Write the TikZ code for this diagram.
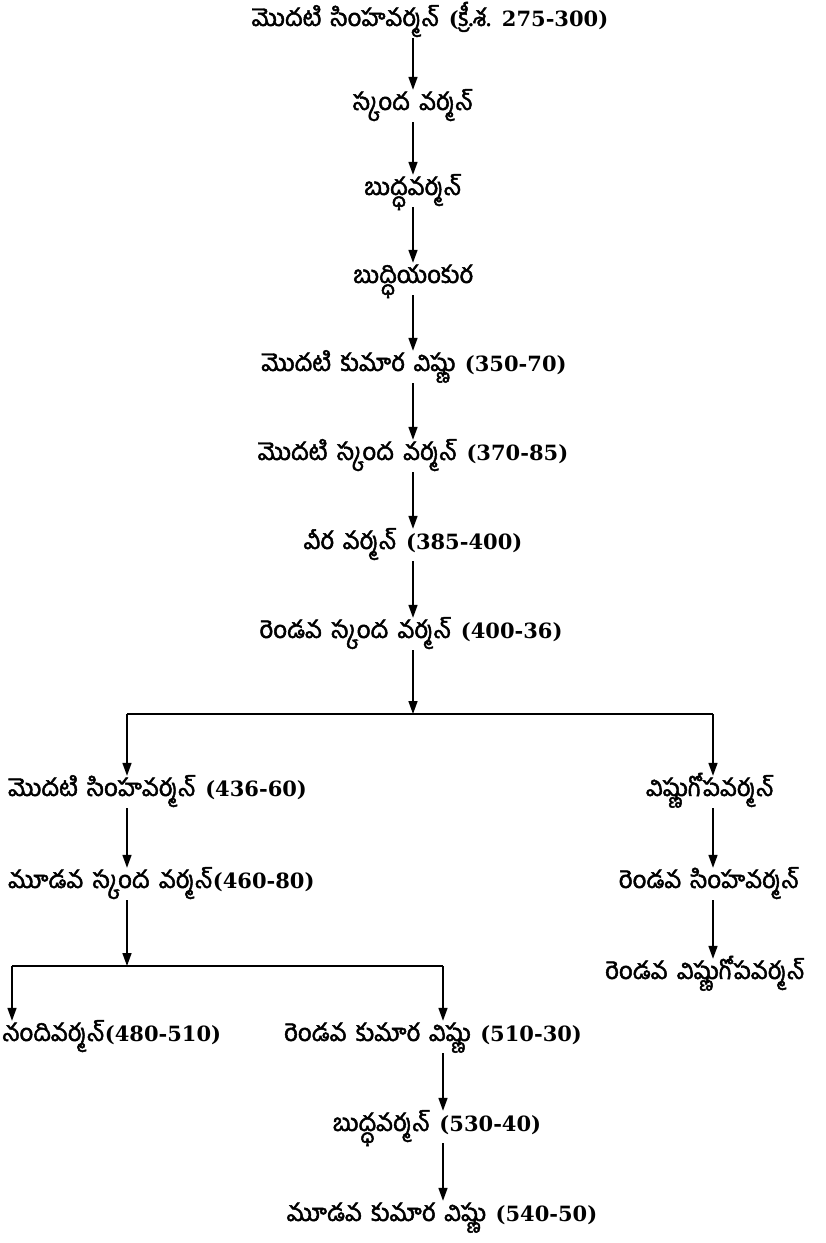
\documentclass[tikz,border=0pt]{standalone}
\usepackage{fontspec}
\usetikzlibrary{arrows.meta}
\newfontfamily\tel[Script=Telugu, FakeBold=2, WordSpace=1.6]{Hind Guntur}
\newfontfamily\numf{DejaVu Serif}
\newcommand{\yr}[1]{{\numf\bfseries\fontsize{21}{26}\selectfont #1}}
\tikzset{
  lbl/.style={inner xsep=0pt, inner ysep=5pt, text height=15pt, text depth=7pt,
    font=\fontsize{24}{28}\selectfont\tel},
  arr/.style={-{Triangle[length=13pt,width=9pt]}, line width=1.6pt},
  ln/.style={line width=1.6pt}
}
\begin{document}
\begin{tikzpicture}[x=1pt,y=-1pt]
\useasboundingbox (0,0) rectangle (826,1243);
% column coordinates
\coordinate (trunk) at (413,0);
\coordinate (cL) at (127,0);
\coordinate (cR) at (713,0);
\coordinate (dL) at (12,0);
\coordinate (dR) at (443,0);
% trunk
\node[lbl] (r1) at (430,22) {మొదటి సింహవర్మన్ \yr{(}క్రీ.శ. \yr{275-300)}};
\node[lbl] (r2) at (413,106) {స్కంద వర్మన్};
\node[lbl] (r3) at (413,191) {బుద్ధవర్మన్};
\node[lbl] (r4) at (413,279) {బుద్ధియంకుర};
\node[lbl] (r5) at (414,367) {మొదటి కుమార విష్ణు \yr{(350-70)}};
\node[lbl] (r6) at (413,456) {మొదటి స్కంద వర్మన్ \yr{(370-85)}};
\node[lbl] (r7) at (413,545) {వీర వర్మన్ \yr{(385-400)}};
\node[lbl] (r8) at (411,634) {రెండవ స్కంద వర్మన్ \yr{(400-36)}};
% left branch
\node[lbl, anchor=west] (l1) at (8,792) {మొదటి సింహవర్మన్ \yr{(436-60)}};
\node[lbl, anchor=west] (l2) at (8,884) {మూడవ స్కంద వర్మన్\yr{(460-80)}};
\node[lbl, anchor=west] (l3a) at (2,1037) {నందివర్మన్\yr{(480-510)}};
\node[lbl] (l3b) at (433,1037) {రెండవ కుమార విష్ణు \yr{(510-30)}};
\node[lbl] (l4) at (437,1127) {బుద్ధవర్మన్ \yr{(530-40)}};
\node[lbl] (l5) at (442,1217) {మూడవ కుమార విష్ణు \yr{(540-50)}};
% right branch
\node[lbl] (g1) at (710,792) {విష్ణుగోపవర్మన్};
\node[lbl] (g2) at (709,884) {రెండవ సింహవర్మన్};
\node[lbl] (g3) at (705,975) {రెండవ విష్ణుగోపవర్మన్};
% bars
\coordinate (b1) at (413,714);
\coordinate (b1l) at (127,714);
\coordinate (b1r) at (713,714);
\coordinate (b2) at (127,966);
\coordinate (b2l) at (12,966);
\coordinate (b2r) at (443,966);
% trunk arrows
\draw[arr] (r1.south -| trunk) -- (r2.north -| trunk);
\draw[arr] (r2.south -| trunk) -- (r3.north -| trunk);
\draw[arr] (r3.south -| trunk) -- (r4.north -| trunk);
\draw[arr] (r4.south -| trunk) -- (r5.north -| trunk);
\draw[arr] (r5.south -| trunk) -- (r6.north -| trunk);
\draw[arr] (r6.south -| trunk) -- (r7.north -| trunk);
\draw[arr] (r7.south -| trunk) -- (r8.north -| trunk);
\draw[arr] (r8.south -| trunk) -- (b1);
\draw[ln] (b1l) -- (b1r);
\draw[arr] (b1l) -- (l1.north -| cL);
\draw[arr] (b1r) -- (g1.north -| cR);
% left
\draw[arr] (l1.south -| cL) -- (l2.north -| cL);
\draw[arr] (l2.south -| cL) -- (b2);
\draw[ln] (b2l) -- (b2r);
\draw[arr] (b2l) -- (l3a.north -| dL);
\draw[arr] (b2r) -- (l3b.north -| dR);
\draw[arr] (l3b.south -| dR) -- (l4.north -| dR);
\draw[arr] (l4.south -| dR) -- (l5.north -| dR);
% right
\draw[arr] (g1.south -| cR) -- (g2.north -| cR);
\draw[arr] (g2.south -| cR) -- (g3.north -| cR);
\end{tikzpicture}
\end{document}
